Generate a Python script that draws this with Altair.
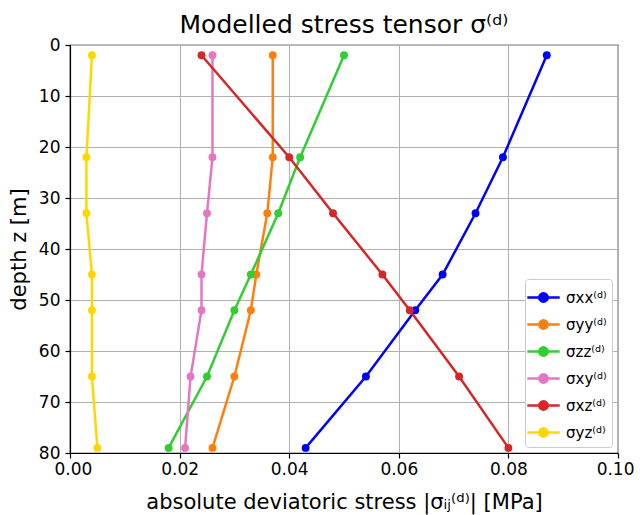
import altair as alt
import pandas as pd

depth = [2, 22, 33, 45, 52, 65, 79]
s_xx = [0.087, 0.079, 0.074, 0.068, 0.063, 0.054, 0.043]
s_yy = [0.037, 0.037, 0.036, 0.034, 0.033, 0.030, 0.026]
s_zz = [0.050, 0.042, 0.038, 0.033, 0.030, 0.025, 0.018]
s_xy = [0.026, 0.026, 0.025, 0.024, 0.024, 0.022, 0.021]
s_xz = [0.024, 0.040, 0.048, 0.057, 0.062, 0.071, 0.080]
s_yz = [0.004, 0.003, 0.003, 0.004, 0.004, 0.004, 0.005]

names = ["σxx⁽ᵈ⁾", "σyy⁽ᵈ⁾", "σzz⁽ᵈ⁾", "σxy⁽ᵈ⁾", "σxz⁽ᵈ⁾", "σyz⁽ᵈ⁾"]
colors = ["#0000ff", "#ff7f0e", "#32cd32", "#e377c2", "#d62728", "#ffd700"]
series = [s_xx, s_yy, s_zz, s_xy, s_xz, s_yz]

rows = []
for n, vals in zip(names, series):
    for d, v in zip(depth, vals):
        rows.append({"comp": n, "depth": d, "stress": v})
df = pd.DataFrame(rows)

color = alt.Color(
    "comp:N",
    scale=alt.Scale(domain=names, range=colors),
    legend=alt.Legend(
        title=None,
        orient="bottom-right",
        offset=6,
        fillColor="white",
        strokeColor="#cccccc",
        cornerRadius=3,
        padding=5,
        labelFontSize=15,
        labelFont="DejaVu Sans",
        labelColor="black",
        symbolType="M-1.35,0L1.35,0M-0.35,0A0.35,0.35,0,1,1,0.35,0A0.35,0.35,0,1,1,-0.35,0Z",
        symbolSize=576,
        symbolStrokeWidth=2.5,
        rowPadding=4,
        labelOffset=9,
    ),
)

x = alt.X(
    "stress:Q",
    scale=alt.Scale(domain=[0, 0.10], nice=False),
    axis=alt.Axis(
        title="absolute deviatoric stress |σᵢⱼ⁽ᵈ⁾| [MPa]",
        values=[0, 0.02, 0.04, 0.06, 0.08, 0.10],
        format=".2f",
        labelFlush=True,
        labelFlushOffset=16,
        labelPadding=3,
        titlePadding=14,
    ),
)
y = alt.Y(
    "depth:Q",
    scale=alt.Scale(domain=[0, 80], reverse=True, nice=False),
    axis=alt.Axis(
        title="depth z [m]",
        values=[0, 10, 20, 30, 40, 50, 60, 70, 80],
        labelPadding=5,
        titlePadding=9,
    ),
)

base = alt.Chart(df).encode(x=x, y=y, color=color, order="depth:Q")
lines = base.mark_line(strokeWidth=2.5)
pts = base.mark_circle(size=62, opacity=1)

chart = (
    alt.layer(lines, pts)
    .properties(
        width=548,
        height=408,
        autosize=alt.AutoSizeParams(type="none"),
        padding={"left": 62, "top": 37, "right": 16, "bottom": 64},
        title=alt.TitleParams("Modelled stress tensor σ⁽ᵈ⁾", fontSize=25, fontWeight="normal",
                              font="DejaVu Sans", offset=-2, color="black"),
    )
    .configure(font="DejaVu Sans")
    .configure_view(stroke="black", strokeWidth=1.2)
    .configure_axis(
        labelFont="DejaVu Sans",
        titleFont="DejaVu Sans",
        labelFontSize=17,
        titleFontSize=21,
        titleFontWeight="normal",
        labelColor="black",
        titleColor="black",
        domainColor="black",
        domainWidth=1.2,
        tickColor="black",
        tickSize=5,
        tickWidth=1.2,
        gridColor="#b0b0b0",
        gridWidth=1,
        gridOpacity=1,
    )
)

chart.save("out.html", embed_options={"renderer": "svg", "actions": False})
